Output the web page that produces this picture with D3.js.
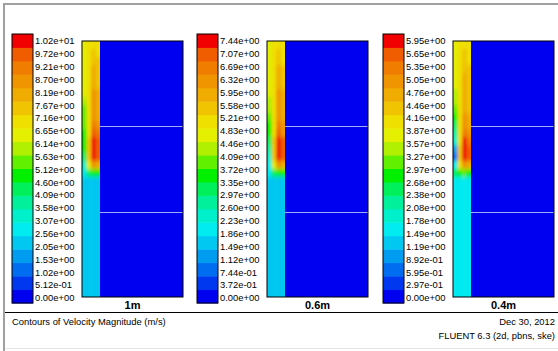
<!DOCTYPE html>
<html>
<head>
<meta charset="utf-8">
<script src="https://cdn.jsdelivr.net/npm/d3@7"></script>
<style>
body { margin: 0; background: #fff; }
svg { display: block; }
text { font-family: "Liberation Sans", Arial, sans-serif; fill: #000; }
</style>
</head>
<body>
<div id="chart"></div>
<script>
// panel names and colour-bar maxima (m/s)
var panelNames = ["1m", "0.6m", "0.4m"];
var maxValues = [10.2, 7.44, 5.95];

var ticks1m = ["1.02e+01", "9.72e+00", "9.21e+00", "8.70e+00", "8.19e+00", "7.67e+00", "7.16e+00",
    "6.65e+00", "6.14e+00", "5.63e+00", "5.12e+00", "4.60e+00", "4.09e+00", "3.58e+00", "3.07e+00",
    "2.56e+00", "2.05e+00", "1.53e+00", "1.02e+00", "5.12e-01", "0.00e+00"];
var ticks06m = ["7.44e+00", "7.07e+00", "6.69e+00", "6.32e+00", "5.95e+00", "5.58e+00", "5.21e+00",
    "4.83e+00", "4.46e+00", "4.09e+00", "3.72e+00", "3.35e+00", "2.97e+00", "2.60e+00", "2.23e+00",
    "1.86e+00", "1.49e+00", "1.12e+00", "7.44e-01", "3.72e-01", "0.00e+00"];
var ticks04m = ["5.95e+00", "5.65e+00", "5.35e+00", "5.05e+00", "4.76e+00", "4.46e+00", "4.16e+00",
    "3.87e+00", "3.57e+00", "3.27e+00", "2.97e+00", "2.68e+00", "2.38e+00", "2.08e+00", "1.78e+00",
    "1.49e+00", "1.19e+00", "8.92e-01", "5.95e-01", "2.97e-01", "0.00e+00"];

// velocity in the inlet strip, rows top->bottom, 4 columns left->right (m/s)
var field1m = [
    [6.6, 6.9, 7.0, 6.8], [6.6, 7.0, 7.3, 7.0], [6.6, 7.0, 7.6, 7.2], [6.5, 7.1, 7.8, 7.3],
    [6.5, 7.1, 8.0, 7.5], [6.4, 7.1, 8.1, 7.6], [6.2, 7.1, 8.2, 7.7], [6.0, 7.1, 8.3, 7.8],
    [5.6, 7.0, 8.4, 7.9], [5.3, 7.0, 8.6, 8.1], [5.2, 7.0, 8.9, 8.4], [5.0, 7.1, 9.4, 8.8],
    [4.9, 7.3, 9.9, 9.3], [4.6, 7.5, 10.2, 9.6], [4.2, 7.2, 9.9, 9.3], [3.4, 6.2, 8.3, 7.8],
    [2.6, 4.4, 5.0, 4.9], [2.3, 2.4, 2.5, 2.5], [2.3, 2.3, 2.3, 2.3], [2.3, 2.3, 2.3, 2.3],
    [2.3, 2.3, 2.3, 2.3], [2.3, 2.3, 2.3, 2.3], [2.3, 2.3, 2.3, 2.3], [2.3, 2.3, 2.3, 2.3],
    [2.3, 2.3, 2.3, 2.3], [2.3, 2.3, 2.3, 2.3], [2.3, 2.3, 2.3, 2.3], [2.3, 2.3, 2.3, 2.3],
    [2.3, 2.3, 2.3, 2.3], [2.3, 2.3, 2.3, 2.3], [2.3, 2.3, 2.3, 2.3], [2.3, 2.3, 2.3, 2.3]
];
var field06m = [
    [4.8, 5.0, 5.1, 4.9], [4.8, 5.1, 5.3, 5.1], [4.8, 5.1, 5.5, 5.2], [4.8, 5.2, 5.6, 5.3],
    [4.7, 5.2, 5.8, 5.4], [4.7, 5.2, 5.9, 5.5], [4.6, 5.2, 6.0, 5.6], [4.4, 5.2, 6.0, 5.6],
    [4.1, 5.1, 6.1, 5.7], [3.8, 5.1, 6.2, 5.8], [3.7, 5.1, 6.4, 6.0], [3.5, 5.1, 6.7, 6.3],
    [3.3, 5.3, 7.1, 6.7], [2.8, 5.4, 7.4, 6.9], [2.4, 5.3, 7.2, 6.8], [2.2, 4.5, 6.0, 5.6],
    [2.0, 3.3, 3.7, 3.6], [1.75, 1.8, 1.8, 1.8], [1.75, 1.75, 1.75, 1.75], [1.75, 1.75, 1.75, 1.75],
    [1.75, 1.75, 1.75, 1.75], [1.75, 1.75, 1.75, 1.75], [1.75, 1.75, 1.75, 1.75], [1.75, 1.75, 1.75, 1.75],
    [1.75, 1.75, 1.75, 1.75], [1.75, 1.75, 1.75, 1.75], [1.75, 1.75, 1.75, 1.75], [1.75, 1.75, 1.75, 1.75],
    [1.75, 1.75, 1.75, 1.75], [1.75, 1.75, 1.75, 1.75], [1.75, 1.75, 1.75, 1.75], [1.75, 1.75, 1.75, 1.75]
];
var field04m = [
    [3.8, 4.0, 4.1, 3.9], [3.8, 4.0, 4.2, 4.0], [3.8, 4.1, 4.3, 4.1], [3.7, 4.1, 4.4, 4.2],
    [3.7, 4.1, 4.5, 4.2], [3.6, 4.1, 4.6, 4.3], [3.5, 4.1, 4.6, 4.3], [3.3, 4.1, 4.7, 4.4],
    [3.0, 4.0, 4.7, 4.4], [2.8, 4.0, 4.8, 4.5], [2.6, 4.0, 5.0, 4.7], [2.3, 4.0, 5.3, 5.0],
    [1.8, 4.1, 5.7, 5.3], [0.9, 4.2, 5.9, 5.5], [0.8, 4.2, 5.8, 5.4], [1.5, 4.0, 5.0, 4.7],
    [2.4, 2.9, 3.0, 2.9], [1.55, 1.6, 1.6, 1.6], [1.55, 1.55, 1.55, 1.55], [1.55, 1.55, 1.55, 1.55],
    [1.55, 1.55, 1.55, 1.55], [1.55, 1.55, 1.55, 1.55], [1.55, 1.55, 1.55, 1.55], [1.55, 1.55, 1.55, 1.55],
    [1.55, 1.55, 1.55, 1.55], [1.55, 1.55, 1.55, 1.55], [1.55, 1.55, 1.55, 1.55], [1.55, 1.55, 1.55, 1.55],
    [1.55, 1.55, 1.55, 1.55], [1.55, 1.55, 1.55, 1.55], [1.55, 1.55, 1.55, 1.55], [1.55, 1.55, 1.55, 1.55]
];

var tickSets = [ticks1m, ticks06m, ticks04m];
var fields = [field1m, field06m, field04m];

// fluent-like 20 band hue map, bottom band first
var bandHues = [240, 226, 213, 201, 190, 181, 171, 159, 143, 120, 96, 76, 63, 56, 49, 43, 37, 31, 23, 0];
var bandColors = bandHues.map(function (h) { return d3.hsl(h, 1, 0.47).toString(); });

var width = 558, height = 351;
var panelX = [0, 185, 371];

var svg = d3.select("#chart").append("svg")
    .attr("width", width)
    .attr("height", height);

svg.append("rect").attr("width", width).attr("height", height).attr("fill", "#fff");

// window frame
svg.append("line").attr("x1", 3).attr("x2", width).attr("y1", 4).attr("y2", 4)
    .attr("stroke", "#a0a0a0").attr("stroke-width", 2);
svg.append("line").attr("x1", 4).attr("x2", 4).attr("y1", 3).attr("y2", height)
    .attr("stroke", "#a0a0a0").attr("stroke-width", 2);
svg.append("line").attr("x1", 5).attr("x2", width).attr("y1", 312.5).attr("y2", 312.5)
    .attr("stroke", "#000").attr("stroke-width", 1);
svg.append("line").attr("x1", 5).attr("x2", width).attr("y1", 348.5).attr("y2", 348.5)
    .attr("stroke", "#e4e4e4").attr("stroke-width", 1);

var defs = svg.append("defs");
defs.append("filter").attr("id", "soft")
    .attr("x", "-20%").attr("y", "-5%").attr("width", "140%").attr("height", "110%")
    .append("feGaussianBlur").attr("stdDeviation", "1.5 2.2");

panelNames.forEach(function (name, p) {
    var ox = panelX[p];
    var maxV = maxValues[p];
    var g = svg.append("g").attr("transform", "translate(" + ox + ",0)");

    var color = d3.scaleQuantize().domain([0, maxV]).range(bandColors);

    // colour bar
    var yBar = d3.scaleLinear().domain([0, maxV]).range([303, 34]);
    var bands = d3.range(20).map(function (k) { return { lo: k * maxV / 20, hi: (k + 1) * maxV / 20, k: k }; });
    g.selectAll("rect.band").data(bands).enter().append("rect")
        .attr("class", "band")
        .attr("x", 12).attr("width", 21)
        .attr("y", function (d) { return yBar(d.hi); })
        .attr("height", function (d) { return yBar(d.lo) - yBar(d.hi) + 0.5; })
        .attr("fill", function (d) { return bandColors[d.k]; });
    g.append("rect").attr("x", 12).attr("y", 34).attr("width", 21).attr("height", 269)
        .attr("fill", "none").attr("stroke", "#000").attr("stroke-width", 1);

    var yLab = d3.scaleLinear().domain([0, maxV]).range([298, 41]);
    g.selectAll("text.tick").data(tickSets[p]).enter().append("text")
        .attr("class", "tick")
        .attr("x", 35)
        .attr("y", function (d, i) { return yLab(maxV * (20 - i) / 20); })
        .attr("dy", "0.35em")
        .style("font-size", "9.4px")
        .text(function (d) { return d; });

    // contour domain
    var x0 = 82, x1 = 183, xs = 100, y0 = 41, y1 = 297;
    var field = fields[p];
    var ncol = field[0].length;
    var xCol = d3.scaleBand().domain(d3.range(ncol)).range([x0, xs]);
    var yRow = d3.scaleBand().domain(d3.range(field.length)).range([y0, y1]);

    g.append("rect").attr("x", x0).attr("y", y0).attr("width", x1 - x0).attr("height", y1 - y0)
        .attr("fill", color(0));

    var clipId = "strip" + p;
    defs.append("clipPath").attr("id", clipId)
        .append("rect").attr("x", x0 + ox).attr("y", y0).attr("width", xs - x0).attr("height", y1 - y0);

    var cells = [];
    field.forEach(function (row, r) {
        row.forEach(function (v, c) { cells.push({ r: r, c: c, v: v }); });
    });
    var pad = 5;
    var strip = g.append("g").attr("clip-path", "url(#" + clipId + ")")
        .attr("transform", "translate(" + (-ox) + ",0)")
        .append("g").attr("transform", "translate(" + ox + ",0)")
        .attr("filter", "url(#soft)");
    strip.selectAll("rect").data(cells).enter().append("rect")
        .attr("x", function (d) { return xCol(d.c) - (d.c === 0 ? pad : 0); })
        .attr("width", function (d) { return xCol.bandwidth() + 0.4 + (d.c === 0 || d.c === ncol - 1 ? pad : 0); })
        .attr("y", function (d) { return yRow(d.r) - (d.r === 0 ? pad : 0); })
        .attr("height", function (d) { return yRow.bandwidth() + 0.4 + (d.r === 0 || d.r === field.length - 1 ? pad : 0); })
        .attr("fill", function (d) { return color(d.v); });

    // interior wall lines
    var yDepth = d3.scaleLinear().domain([0, 3]).range([y0, y1]);
    g.selectAll("line.wall").data([1, 2]).enter().append("line")
        .attr("class", "wall")
        .attr("x1", xs).attr("x2", x1)
        .attr("y1", function (d) { return Math.round(yDepth(d)) + 0.5; })
        .attr("y2", function (d) { return Math.round(yDepth(d)) + 0.5; })
        .attr("stroke", "#a6aaf4").attr("stroke-width", 1);

    g.append("rect").attr("x", x0).attr("y", y0).attr("width", x1 - x0).attr("height", y1 - y0)
        .attr("fill", "none").attr("stroke", "#000").attr("stroke-width", 1);

    g.append("text")
        .attr("x", (x0 + x1) / 2).attr("y", 309)
        .attr("text-anchor", "middle")
        .style("font-size", "11px").style("font-weight", "bold")
        .text(name);
});

svg.append("text").attr("x", 12).attr("y", 325)
    .style("font-size", "9.4px")
    .text("Contours of Velocity Magnitude (m/s)");
svg.append("text").attr("x", 555).attr("y", 325)
    .attr("text-anchor", "end")
    .style("font-size", "9.4px")
    .text("Dec 30, 2012");
svg.append("text").attr("x", 555).attr("y", 339)
    .attr("text-anchor", "end")
    .style("font-size", "9.4px")
    .text("FLUENT 6.3 (2d, pbns, ske)");
</script>
</body>
</html>
